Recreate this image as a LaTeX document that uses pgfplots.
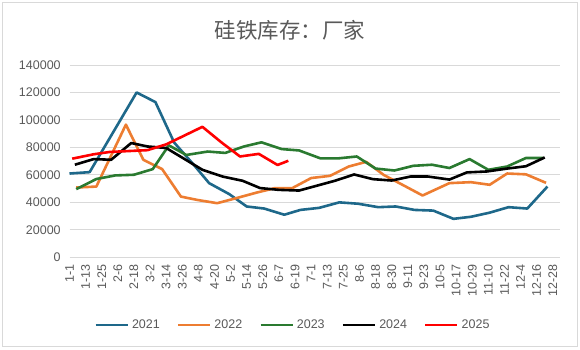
\documentclass[border=0pt]{standalone}
\usepackage{fontspec}
\setmainfont{Liberation Sans}
\newfontfamily\cjk{Noto Sans CJK SC}
\usepackage{pgfplots}
\pgfplotsset{compat=1.18}
\definecolor{c21}{HTML}{1E688A}
\definecolor{c22}{HTML}{ED7D31}
\definecolor{c23}{HTML}{2A7A30}
\definecolor{c24}{HTML}{000000}
\definecolor{c25}{HTML}{FF0000}
\definecolor{txtgray}{HTML}{595959}
\definecolor{gridgray}{HTML}{D9D9D9}
\begin{document}
\begin{tikzpicture}[x=1pt,y=1pt]
\useasboundingbox (0,0) rectangle (580,349);
\draw[color=gridgray, line width=1pt] (2.5,2.5) rectangle (577.5,346.5);
\node[font=\cjk\fontsize{21.5}{24}\selectfont, text=txtgray] at (290,319) {硅铁库存：厂家};
\begin{axis}[
  at={(69.5pt,91.7pt)}, anchor=south west,
  scale only axis, width=490pt, height=192.3pt,
  xmin=0, xmax=365, ymin=0, ymax=140000,
  clip=false,
  axis lines=left, axis line style={draw=none},
  major tick length=0pt,
  ymajorgrids, grid style={color=gridgray, line width=1pt},
  ytick={0,20000,40000,60000,80000,100000,120000,140000},
  scaled y ticks=false,
  /pgf/number format/assume math mode=true,
  /pgf/number format/fixed,
  /pgf/number format/1000 sep={},
  yticklabel style={font=\fontsize{12.5}{15}\selectfont, text=txtgray, xshift=-5.3pt},
  xtick={0,12,...,360},
  xticklabels={1-1,1-13,1-25,2-6,2-18,3-2,3-14,3-26,4-8,4-20,5-2,5-14,5-26,6-7,6-19,7-1,7-13,7-25,8-6,8-18,8-30,9-11,9-23,10-5,10-17,10-29,11-10,11-22,12-4,12-16,12-28},
  xticklabel style={font=\fontsize{12.5}{15}\selectfont, text=txtgray, rotate=90, anchor=east},
  xticklabel shift=3.5pt,
  legend columns=5,
  legend image code/.code={\draw[#1, line width=2.6pt] (0pt,0pt) -- (32pt,0pt);},
  legend style={at={(axis description cs:0.454,-0.352)}, anchor=center, draw=none, fill=none,
    font=\fontsize{12.5}{15}\selectfont, text=txtgray, inner sep=0pt,
    nodes={inner sep=0pt},
    /tikz/every odd column/.append style={column sep=3pt},
    /tikz/every even column/.append style={column sep=17pt}},
  every axis plot/.append style={line width=2.6pt, line join=round, no markers},
]
\addplot[c21] coordinates {
(0,61000) (15,62000) (50,120000) (64,113000) (78,83500) (92,68000) (104,54000) (119,46000)
(132,37000) (145,35500) (160,31000) (172,34500) (186,36000) (201,40000) (215,39000) (230,36500)
(243,37000) (257,34500) (271,34000) (286,28000) (299,29500) (313,32500) (327,36500) (341,35500) (356,51500)};
\addlegendentry{2021}
\addplot[c22] coordinates {
(5,50800) (20,51500) (42,96600) (55,71000) (69,64200) (83,44200) (95,41800) (110,39400)
(124,43000) (139,47000) (153,50400) (166,50400) (180,57700) (194,59300) (208,66100) (221,69500)
(234,60000) (248,52800) (263,45000) (283,54000) (299,54700) (313,52800) (326,61000) (340,60400) (355,54200)};
\addlegendentry{2022}
\addplot[c23] coordinates {
(5,49600) (20,57000) (34,59600) (48,60100) (62,64200) (74,81500) (87,74500) (103,77000)
(116,76000) (130,80700) (143,83700) (158,78800) (171,77800) (187,72000) (200,72000) (214,73400)
(228,64600) (242,63200) (256,66600) (270,67400) (283,65000) (298,71500) (312,63700) (326,66100) (340,72300) (353,72300)};
\addlegendentry{2023}
\addplot[c24] coordinates {
(4,67400) (18,71500) (31,71000) (46,83200) (58,80700) (72,79600) (99,63700) (114,58800)
(129,55700) (142,50400) (156,49100) (171,48600) (183,51800) (198,55800) (212,60300) (226,56900)
(240,55900) (254,58800) (267,58800) (283,56600) (296,61800) (311,62500) (326,64600) (340,66300) (354,72700)};
\addlegendentry{2024}
\addplot[c25] coordinates {
(2,71800) (18,75000) (30,76700) (45,77400) (58,78000) (72,82200) (99,95000) (113,83800)
(127,73400) (141,75300) (155,67200) (163,70300)};
\addlegendentry{2025}
\end{axis}
\end{tikzpicture}
\end{document}
